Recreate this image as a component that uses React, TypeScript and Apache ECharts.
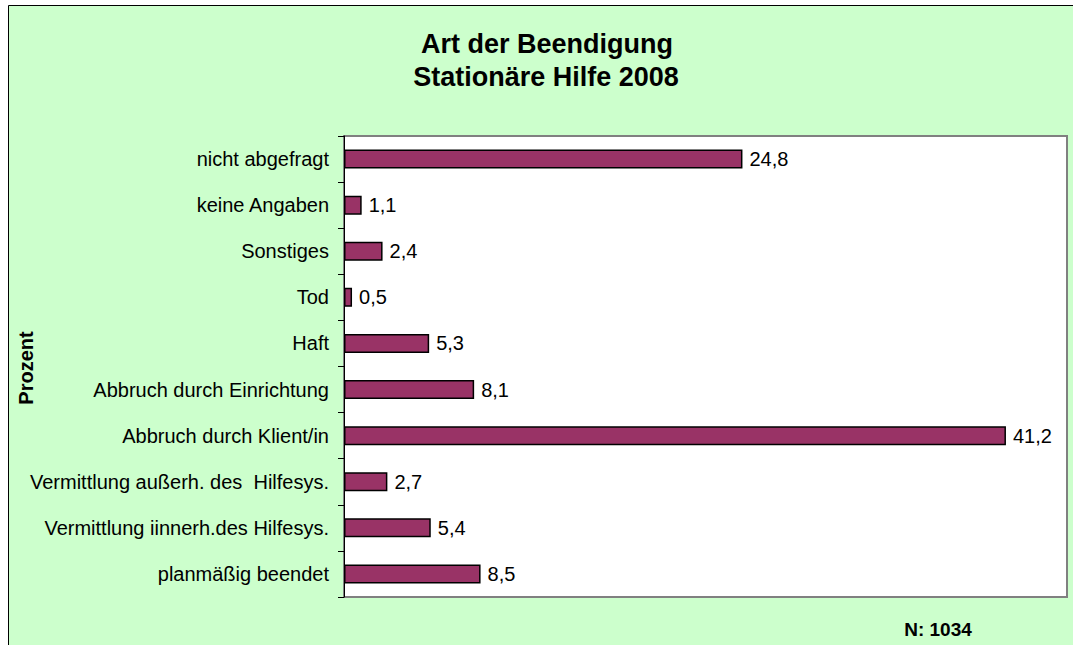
import React, { useEffect, useRef } from "react";
import * as echarts from "echarts";

const categories = [
  "planmäßig beendet",
  "Vermittlung iinnerh.des Hilfesys.",
  "Vermittlung außerh. des  Hilfesys.",
  "Abbruch durch Klient/in",
  "Abbruch durch Einrichtung",
  "Haft",
  "Tod",
  "Sonstiges",
  "keine Angaben",
  "nicht abgefragt",
];
const values = [8.5, 5.4, 2.7, 41.2, 8.1, 5.3, 0.5, 2.4, 1.1, 24.8];
const titleLines = ["Art der Beendigung", "Stationäre Hilfe 2008"];
const axisName = "Prozent";
const footnote = "N: 1034";

const FONT = "'Liberation Sans', Arial, sans-serif";

export default function App() {
  const ref = useRef<HTMLDivElement>(null);
  useEffect(() => {
    document.body.style.margin = "0";
    const chart = echarts.init(ref.current!, null, { renderer: "svg" });
    chart.setOption({
      animation: false,
      backgroundColor: "#ffffff",
      textStyle: { fontFamily: FONT },
      graphic: [
        {
          type: "rect",
          z: -10,
          silent: true,
          shape: { x: 8.5, y: 5.5, width: 1200, height: 800 },
          style: { fill: "#CCFFCC", stroke: "#000000", lineWidth: 1 },
        },
        {
          type: "text",
          x: 547,
          y: 44,
          style: {
            text: titleLines[0],
            font: `bold 27px ${FONT}`,
            fill: "#000",
            align: "center",
            verticalAlign: "middle",
          },
        },
        {
          type: "text",
          x: 546,
          y: 77,
          style: {
            text: titleLines[1],
            font: `bold 27px ${FONT}`,
            fill: "#000",
            align: "center",
            verticalAlign: "middle",
          },
        },
        {
          type: "text",
          x: 26,
          y: 368,
          rotation: Math.PI / 2,
          style: {
            text: axisName,
            font: `bold 20px ${FONT}`,
            fill: "#000",
            align: "center",
            verticalAlign: "middle",
          },
        },
        {
          type: "text",
          x: 938,
          y: 629,
          style: {
            text: footnote,
            font: `bold 19px ${FONT}`,
            fill: "#000",
            align: "center",
            verticalAlign: "middle",
          },
        },
      ],
      grid: {
        left: 344,
        top: 136,
        right: 6,
        bottom: 48,
        show: true,
        backgroundColor: "#ffffff",
        borderColor: "#808080",
        borderWidth: 2,
      },
      xAxis: {
        type: "value",
        min: 0,
        max: 45,
        axisLabel: { show: false },
        axisTick: { show: false },
        axisLine: { show: false },
        splitLine: { show: false },
      },
      yAxis: {
        type: "category",
        data: categories,
        axisLine: { show: true, lineStyle: { color: "#000", width: 1 } },
        axisTick: { show: true, length: 6, lineStyle: { color: "#000" } },
        axisLabel: {
          color: "#000",
          fontSize: 20,
          fontFamily: FONT,
          margin: 15,
        },
      },
      series: [
        {
          type: "bar",
          data: values,
          barWidth: 19,
          itemStyle: { color: "#993366", borderColor: "#000", borderWidth: 1.5 },
          label: {
            show: true,
            position: "right",
            distance: 7,
            color: "#000",
            fontSize: 20,
            fontFamily: FONT,
            formatter: (p: any) => String(p.value).replace(".", ","),
          },
        },
      ],
    });
    return () => chart.dispose();
  }, []);
  return <div ref={ref} style={{ width: 1073, height: 645 }} />;
}
